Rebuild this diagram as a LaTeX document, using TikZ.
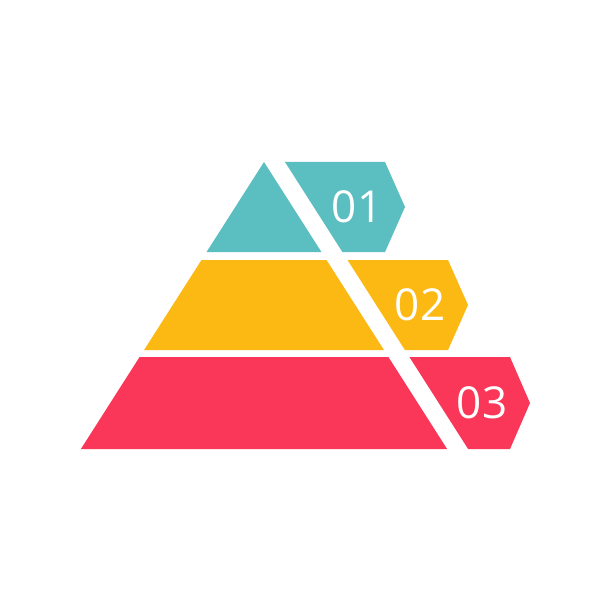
\documentclass[tikz,border=0pt]{standalone}
\usepackage{fontspec}
\setsansfont{Open Sans}
\definecolor{pyrteal}{RGB}{91,190,193}
\definecolor{pyryellow}{RGB}{253,185,19}
\definecolor{pyrred}{RGB}{250,54,89}
\tikzset{
  layer/.style={fill=#1, draw=none},
  numlabel/.style={text=white, inner sep=0pt, font=\sffamily\fontsize{44}{44}\selectfont}
}
\begin{document}
\begin{tikzpicture}[x=1pt, y=-1pt]
\useasboundingbox[fill=white] (0,0) rectangle (612,612);
% layers: top / bottom / right edge of label / colour / text
\foreach \ytop/\ybot/\rx/\col/\lab in {162/252/385/pyrteal/01, 260/350/448/pyryellow/02, 357/449/510/pyrred/03}{
  \pgfmathsetmacro\ymid{(\ytop+\ybot)/2}
  \pgfmathsetmacro\ltop{264-0.638*(\ytop-162)}
  \pgfmathsetmacro\lbot{264-0.638*(\ybot-162)}
  \pgfmathsetmacro\rtop{264+0.638*(\ytop-162)}
  \pgfmathsetmacro\rbot{264+0.638*(\ybot-162)}
  % left part of the pyramid
  \fill[layer=\col] (\ltop,\ytop) -- (\rtop,\ytop) -- (\rbot,\ybot) -- (\lbot,\ybot) -- cycle;
  % label tab
  \fill[layer=\col] (\rtop+21,\ytop) -- (\rx,\ytop) -- (\rx+20,\ymid) -- (\rx,\ybot) -- (\rbot+21,\ybot) -- cycle;
  \node[numlabel] (lab\lab) at (\rx-28,\ymid) {\lab};
}
\end{tikzpicture}
\end{document}
